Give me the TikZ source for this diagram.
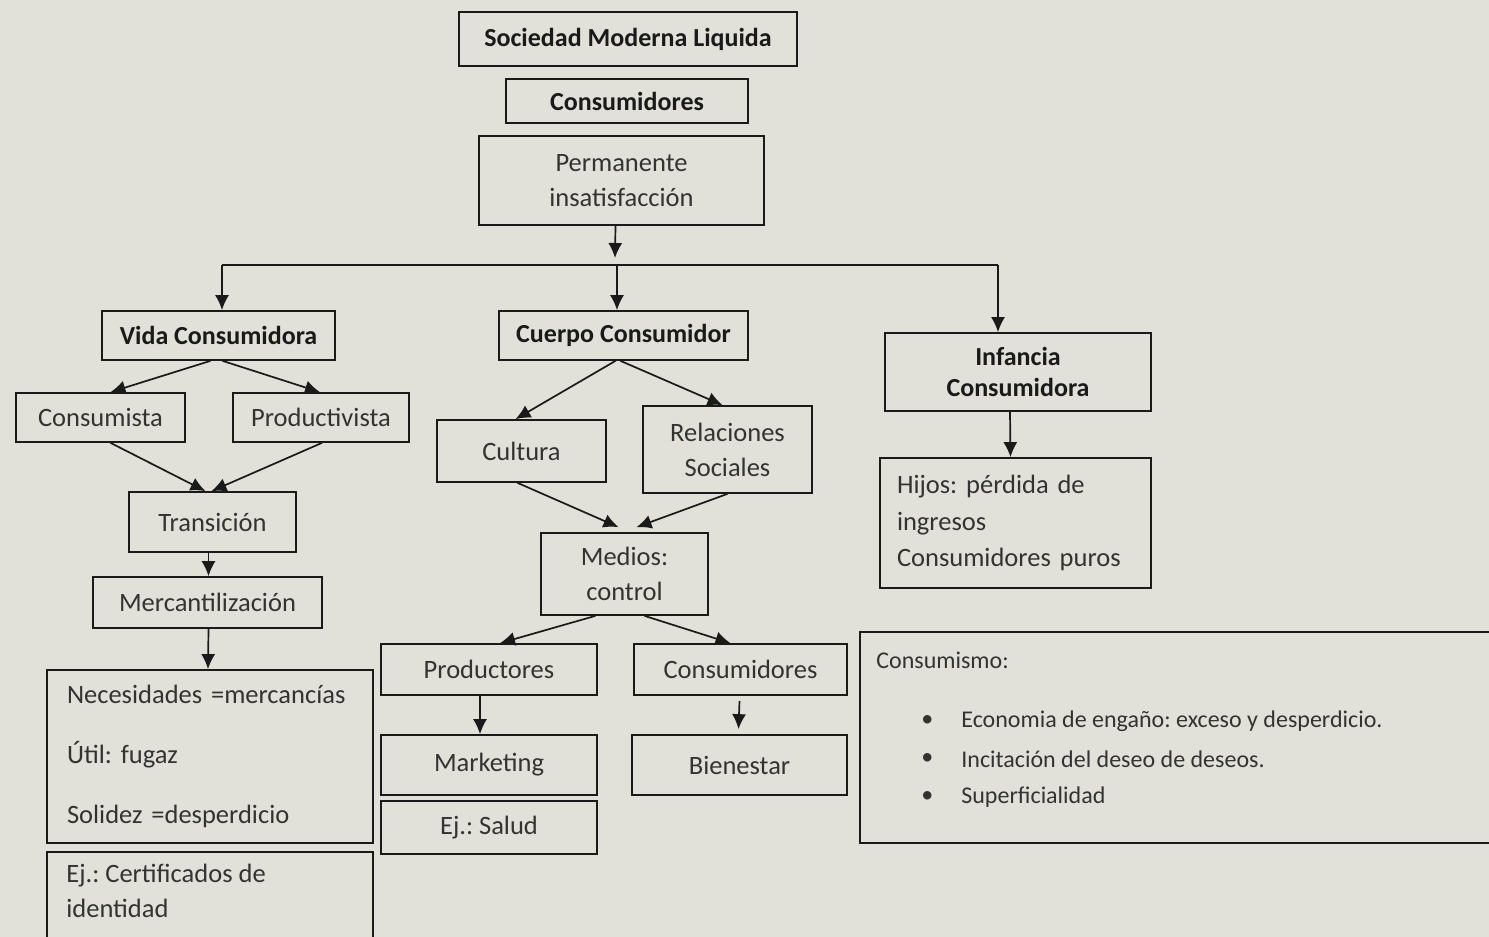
\documentclass[tikz,border=0pt]{standalone}
\usepackage{fontspec}
\setmainfont{Carlito}
\usetikzlibrary{arrows.meta,calc}
\definecolor{bg}{HTML}{E1E1D9}
\definecolor{ink}{HTML}{1A1A1A}
\definecolor{txt}{HTML}{333333}
\frenchspacing
\begin{document}
\begin{tikzpicture}[x=1pt,y=-1pt,
  box/.style={draw=ink, line width=1.7pt, inner sep=0pt, font=\fontsize{26.5}{31}\selectfont, text=txt, align=center},
  hbox/.style={box, font=\fontsize{26}{31}\selectfont\bfseries, text=ink},
  arr/.style={draw=ink, line width=1.7pt, -{Latex[length=15pt,width=14pt]}},
  ln/.style={draw=ink, line width=1.7pt},
  plain/.style={inner sep=0pt, font=\fontsize{26.5}{31}\selectfont, text=txt},
  thin/.style={inner sep=0pt, font=\fontsize{24}{28}\selectfont, text=txt}]
\useasboundingbox (0,0) rectangle (1489,937);
\clip (0,0) rectangle (1489,937);
\fill[bg] (0,0) rectangle (1489,937);

% top chain
\node[hbox, minimum width=338pt, minimum height=54pt] (soc) at (628,39) {Sociedad Moderna Liquida};
\node[hbox, minimum width=242pt, minimum height=44pt] (cons1) at (627,101) {Consumidores};
\node[box, minimum width=285pt, minimum height=89pt, font=\fontsize{26.5}{35}\selectfont] (perm) at (621.5,180.5) {Permanente\\insatisfacción};

% level 2
\node[hbox, minimum width=233pt, minimum height=49pt] (vida) at (218.5,335.5) {Vida Consumidora};
\node[hbox, minimum width=249pt, minimum height=49pt] (cuerpo) at (623.5,335.5) {Cuerpo Consumidor};
\node[hbox, minimum width=266pt, minimum height=78pt] (inf) at (1018,372) {Infancia\\Consumidora};

% left branch
\node[box, minimum width=169pt, minimum height=49pt] (consumista) at (100.5,417.5) {Consumista};
\node[box, minimum width=176pt, minimum height=49pt] (product) at (321,417.5) {Productivista};
\node[box, minimum width=167pt, minimum height=60pt] (trans) at (212.5,522) {Transición};
\node[box, minimum width=229pt, minimum height=51pt] (merc) at (207.5,602.5) {Mercantilización};
\node[box, minimum width=326pt, minimum height=173pt, text width=286pt, align=left] (nec) at (210,756.5)
  {Necesidades =mercancías\\[29pt]Útil: fugaz\\[29pt]Solidez =desperdicio};
\node[box, minimum width=326pt, minimum height=110pt] (ej1) at (210,907) {};
\node[plain, anchor=north west, align=left, font=\fontsize{26.5}{35}\selectfont] (ej1t) at ([xshift=20pt,yshift=-13pt]ej1.north west)
  {Ej.: Certificados de\\identidad};

% middle branch
\node[box, minimum width=169pt, minimum height=62pt] (cultura) at (521.5,451) {Cultura};
\node[box, minimum width=169pt, minimum height=87pt, font=\fontsize{26.5}{35}\selectfont] (rel) at (727.5,449.5) {Relaciones\\Sociales};
\node[box, minimum width=167pt, minimum height=82pt, font=\fontsize{26.5}{35}\selectfont] (medios) at (624.5,574) {Medios:\\control};
\node[box, minimum width=216pt, minimum height=51pt] (prod) at (489,669.5) {Productores};
\node[box, minimum width=213pt, minimum height=51pt] (cons2) at (740.5,669.5) {Consumidores};
\node[box, minimum width=216pt, minimum height=60pt] (mark) at (489,765) {Marketing};
\node[box, minimum width=216pt, minimum height=53pt] (salud) at (489,827.5) {Ej.: Salud};
\node[box, minimum width=215pt, minimum height=60pt] (bien) at (739.5,765) {Bienestar};

% right branch
\node[box, minimum width=271pt, minimum height=130pt, text width=237pt, align=left, font=\fontsize{26.5}{36.5}\selectfont] (hijos) at (1015.5,523)
  {Hijos: pérdida de\\ingresos\\Consumidores puros};
\node[box, minimum width=640pt, minimum height=211pt] (cm) at (1180,737.5) {};
\node[thin, anchor=west] (cmt) at ([xshift=17pt,yshift=-29pt]cm.north west) {Consumismo:};
\node[thin, anchor=west] (b1) at ([xshift=62pt,yshift=-90pt]cm.north west) {\textbullet};
\node[thin, anchor=west] (i1) at ([xshift=102pt,yshift=-90pt]cm.north west) {Economia de engaño: exceso y desperdicio.};
\node[thin, anchor=west] (b2) at ([xshift=62pt,yshift=-128pt]cm.north west) {\textbullet};
\node[thin, anchor=west] (i2) at ([xshift=102pt,yshift=-128pt]cm.north west) {Incitación del deseo de deseos.};
\node[thin, anchor=west] (b3) at ([xshift=62pt,yshift=-166pt]cm.north west) {\textbullet};
\node[thin, anchor=west] (i3) at ([xshift=102pt,yshift=-166pt]cm.north west) {Superficialidad};

% connectors
\coordinate (split) at (615,258);
\coordinate (hL) at (222,265);
\coordinate (hM) at (617,265);
\coordinate (hR) at (998,265);
\draw[arr] ([xshift=-6pt]perm.south) -- (split);
\draw[ln] (hL) -- (hR);
\draw[arr] (hL) -- ([xshift=3.5pt]vida.north);
\draw[arr] (hM) -- ([xshift=-6.5pt]cuerpo.north);
\draw[arr] (hR) -- ([xshift=-20pt]inf.north);

\draw[arr] ([xshift=-8pt]vida.south) -- ([xshift=10pt]consumista.north);
\draw[arr] ([xshift=4pt]vida.south) -- ([xshift=-1pt]product.north);
\draw[arr] ([xshift=10pt]consumista.south) -- ([xshift=-7pt]trans.north);
\draw[arr] ([xshift=1pt]product.south) -- ([xshift=-1pt]trans.north);
\draw[arr] ([xshift=-4pt]trans.south) -- ([xshift=1pt]merc.north);
\draw[arr] ([xshift=1pt]merc.south) -- ([xshift=-2pt]nec.north);

\draw[arr] ([xshift=-8pt]cuerpo.south) -- ([xshift=-6pt]cultura.north);
\draw[arr] ([xshift=-3pt]cuerpo.south) -- ([xshift=-5pt]rel.north);
\draw[arr] ([xshift=-4pt]cultura.south) -- ([xshift=-6pt,yshift=5pt]medios.north);
\draw[arr] ([xshift=0pt]rel.south) -- ([xshift=12pt,yshift=5pt]medios.north);
\draw[arr] ([xshift=-29pt]medios.south) -- ([xshift=11pt]prod.north);
\draw[arr] ([xshift=20pt]medios.south) -- ([xshift=-10pt]cons2.north);
\draw[arr] ([xshift=-9pt]prod.south) -- ([xshift=-9pt]mark.north);
\draw[arr] ([xshift=-1pt,yshift=-5pt]cons2.south) -- ([xshift=-1pt,yshift=5pt]bien.north);
\draw[arr] ([xshift=-8pt]inf.south) -- ([xshift=-5pt]hijos.north);
\end{tikzpicture}
\end{document}
